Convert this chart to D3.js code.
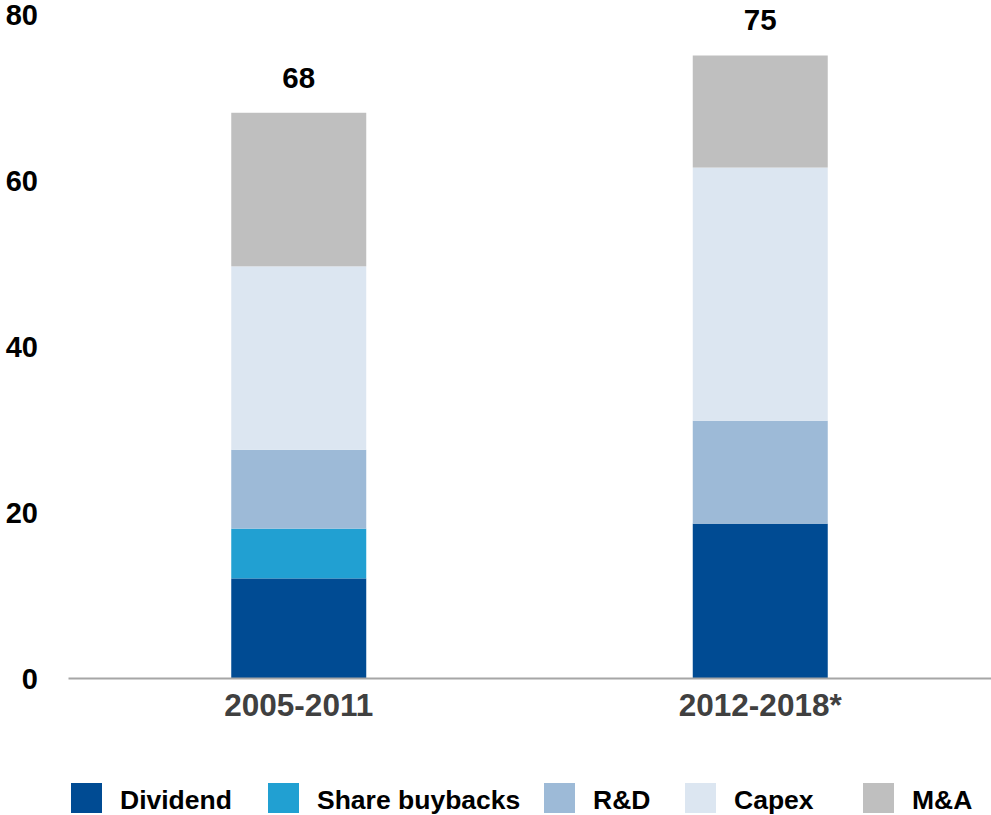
<!DOCTYPE html>
<html>
<head>
<meta charset="utf-8">
<script src="https://cdn.jsdelivr.net/npm/d3@7"></script>
<style>
  body { margin: 0; background: #fff; }
  text { font-family: "Liberation Sans", Arial, sans-serif; font-weight: bold; }
</style>
</head>
<body>
<div id="chart"></div>
<script>
const periods = ["2005-2011", "2012-2018*"];
const seriesNames = ["Dividend", "Share buybacks", "R&D", "Capex", "M&A"];
const dividend = [12, 18.6];
const buybacks = [6, 0];
const rnd = [9.5, 12.4];
const capex = [22.1, 30.5];
const mna = [18.5, 13.5];
const totals = [68, 75];
const yTicks = [0, 20, 40, 60, 80];

const colors = ["#004b93", "#21a0d2", "#9dbad7", "#dce6f1", "#bfbfbf"];
const legendX = [71, 268, 544, 685, 863];

const W = 991, H = 815;
const svg = d3.select("#chart").append("svg")
  .attr("width", W)
  .attr("height", H);

const rows = periods.map((p, i) => ({
  period: p,
  "Dividend": dividend[i],
  "Share buybacks": buybacks[i],
  "R&D": rnd[i],
  "Capex": capex[i],
  "M&A": mna[i]
}));

const stack = d3.stack().keys(seriesNames)(rows);

const x = d3.scaleBand()
  .domain(periods)
  .range([68, 991])
  .paddingInner(0.7075)
  .paddingOuter(0.7075 / 2);

const y = d3.scaleLinear()
  .domain([0, 80])
  .range([678, 14]);

// bars
svg.append("g")
  .selectAll("g")
  .data(stack)
  .join("g")
  .attr("fill", (d, i) => colors[i])
  .selectAll("rect")
  .data(d => d)
  .join("rect")
  .attr("x", d => x(d.data.period))
  .attr("width", x.bandwidth())
  .attr("y", d => y(d[1]))
  .attr("height", d => y(d[0]) - y(d[1]));

// y axis labels
const yAxis = svg.append("g")
  .attr("transform", "translate(38,0)")
  .call(d3.axisLeft(y).tickValues(yTicks).tickSize(0).tickPadding(0));
yAxis.select(".domain").remove();
yAxis.selectAll("text")
  .attr("font-size", 29)
  .attr("font-family", "'Liberation Sans', Arial, sans-serif")
  .attr("fill", "#000")
  .attr("dy", "0.36em");

// x axis
const xAxis = svg.append("g")
  .attr("transform", "translate(0," + y(0) + ")")
  .call(d3.axisBottom(x).tickSize(0).tickPadding(16));
xAxis.select(".domain")
  .attr("stroke", "#a6a6a6")
  .attr("stroke-width", 2);
xAxis.selectAll("text")
  .attr("font-size", 31.5)
  .attr("font-family", "'Liberation Sans', Arial, sans-serif")
  .attr("fill", "#404040");

// totals
svg.append("g")
  .selectAll("text")
  .data(periods)
  .join("text")
  .attr("x", d => x(d) + x.bandwidth() / 2)
  .attr("y", (d, i) => y(totals[i]) - 26)
  .attr("text-anchor", "middle")
  .attr("font-size", 29.5)
  .attr("fill", "#000")
  .text((d, i) => totals[i]);

// legend
const legend = svg.append("g")
  .selectAll("g")
  .data(seriesNames)
  .join("g")
  .attr("transform", (d, i) => "translate(" + legendX[i] + ",783)");
legend.append("rect")
  .attr("width", 31)
  .attr("height", 30)
  .attr("fill", (d, i) => colors[i]);
legend.append("text")
  .attr("x", 49)
  .attr("y", 26)
  .attr("font-size", 26.5)
  .attr("fill", "#000")
  .text(d => d);
</script>
</body>
</html>
